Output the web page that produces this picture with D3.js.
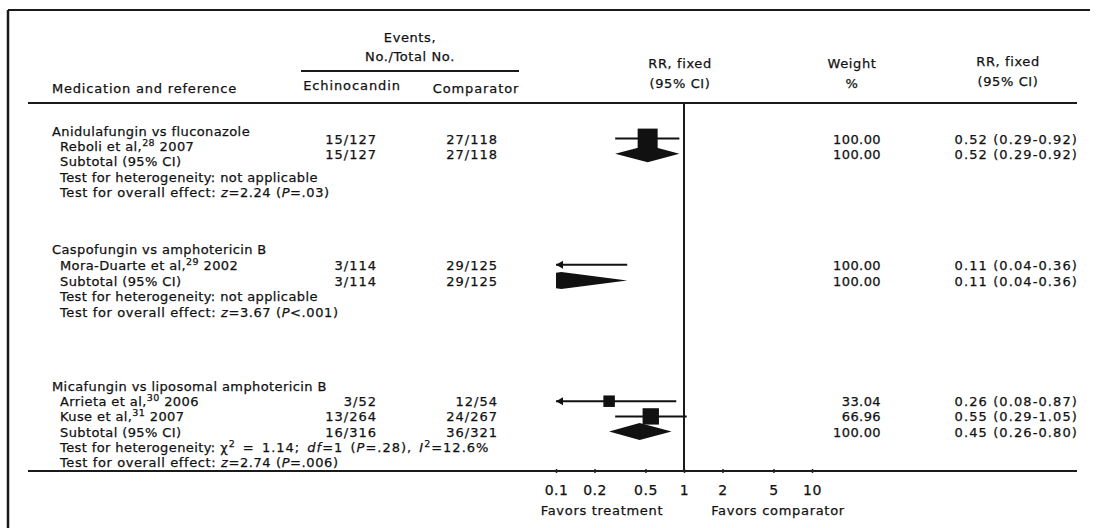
<!DOCTYPE html>
<html>
<head>
<meta charset="utf-8">
<script src="https://cdn.jsdelivr.net/npm/d3@7"></script>
<style>
body { margin: 0; background: #fff; }
svg text { font-family: "DejaVu Sans", "Liberation Sans", sans-serif; font-size: 13px; fill: #111; stroke: #111; stroke-width: 0.25px; letter-spacing: 0.4px; }
</style>
</head>
<body>
<div id="chart"></div>
<script>
// ---- data ----
var comparisons = ["Anidulafungin vs fluconazole", "Caspofungin vs amphotericin B", "Micafungin vs liposomal amphotericin B"];

var studyNames = ["Reboli et al,", "Mora-Duarte et al,", "Arrieta et al,", "Kuse et al,"];
var studyRefs = ["28", "29", "30", "31"];
var studyYears = ["2007", "2002", "2006", "2007"];
var studyGroup = [0, 1, 2, 2];
var echEvents = [15, 3, 3, 13];
var echTotals = [127, 114, 52, 264];
var compEvents = [27, 29, 12, 24];
var compTotals = [118, 125, 54, 267];
var studyWeight = [100, 100, 33.04, 66.96];
var studyRR = [0.52, 0.11, 0.26, 0.55];
var studyLo = [0.29, 0.04, 0.08, 0.29];
var studyHi = [0.92, 0.36, 0.87, 1.05];

var subEchEvents = [15, 3, 16];
var subEchTotals = [127, 114, 316];
var subCompEvents = [27, 29, 36];
var subCompTotals = [118, 125, 321];
var subWeight = [100, 100, 100];
var subRR = [0.52, 0.11, 0.45];
var subLo = [0.29, 0.04, 0.26];
var subHi = [0.92, 0.36, 0.80];

// heterogeneity text pieces: [text, style]
var hetTests = [
  [["not applicable"]],
  [["not applicable"]],
  [["χ"], ["2", "sup"], [" = 1.14; "], ["df", "i"], ["=1 ("], ["P", "i"], ["=.28), "], ["I", "i"], ["2", "sup"], ["=12.6%"]]
];
var overallZ = ["2.24", "3.67", "2.74"];
var overallP = ["=.03", "<.001", "=.006"];

var axisTicks = [0.1, 0.2, 0.5, 1, 2, 5, 10];

// ---- layout ----
var W = 1097, H = 528;
var groupTop = [131, 249, 386];   // centre of each comparison title line
var groupStep = [15.2, 15.75, 15.2];
var numShift = [-0.5, 0, 0];      // first block has its numbers set half a line up
var col = { title: 52, indent: 60, ech: 377, comp: 498, weight: 881, ci: 1078 };
var axisY = 471, headLine = 103;

var svg = d3.select("#chart").append("svg")
    .attr("width", W)
    .attr("height", H);

var x = d3.scaleLog().domain([0.1, 10]).range([556, 812]);
var xMin = x.range()[0], xMax = x.range()[1];
var f2 = d3.format(".2f");

// frame and rules
function rule(x1, x2, y1, y2, w) {
  svg.append("line").attr("x1", x1).attr("x2", x2).attr("y1", y1).attr("y2", y2)
    .attr("stroke", "#1a1a1a").attr("stroke-width", w || 2);
}
rule(8, 1090, 10, 10);
rule(8, 8, 10, H, 2.5);
rule(28, 1077, headLine, headLine);
rule(301, 519, 71, 71);
rule(28, 1077, axisY, axisY);
rule(x(1), x(1), headLine, axisY);

// header
function headText(t, xx, yy, anchor) {
  return svg.append("text").attr("x", xx).attr("y", yy)
    .attr("text-anchor", anchor || "middle").text(t);
}
headText("Events,", 410, 42).style("letter-spacing", "0.6px");
headText("No./Total No.", 410, 61).style("letter-spacing", "0.6px");
headText("Echinocandin", 352, 90).style("letter-spacing", "0.9px");
headText("Comparator", 476, 93).style("letter-spacing", "0.9px");
headText("Medication and reference", 52, 93, "start").style("letter-spacing", "0.8px");
headText("RR, fixed", 680, 68).style("letter-spacing", "0.6px");
headText("(95% CI)", 680, 88).style("letter-spacing", "0.6px");
headText("Weight", 852, 68).style("letter-spacing", "0.6px");
headText("%", 852, 88);
headText("RR, fixed", 1008, 66).style("letter-spacing", "0.6px");
headText("(95% CI)", 1008, 86).style("letter-spacing", "0.6px");

// rows
var rows = svg.append("g").attr("class", "rows");
svg.append("clipPath").attr("id", "plotclip")
  .append("rect").attr("x", xMin).attr("y", 0).attr("width", xMax - xMin).attr("height", H);
var marks = svg.append("g").attr("class", "marks");

function lineY(g, i) { return groupTop[g] + i * groupStep[g] + 5; }

function numbers(yy, ee, et, ce, ct, w, rr, lo, hi) {
  rows.append("text").attr("x", col.ech).attr("y", yy).attr("text-anchor", "end")
    .style("letter-spacing", "1px").text(ee + "/" + et);
  rows.append("text").attr("x", col.comp).attr("y", yy).attr("text-anchor", "end")
    .style("letter-spacing", "1px").text(ce + "/" + ct);
  rows.append("text").attr("x", col.weight).attr("y", yy).attr("text-anchor", "end")
    .style("letter-spacing", "0.4px").text(f2(w));
  rows.append("text").attr("x", col.ci).attr("y", yy).attr("text-anchor", "end")
    .style("letter-spacing", "1.1px")
    .text(f2(rr) + " (" + f2(lo) + "-" + f2(hi) + ")");
}

comparisons.forEach(function(name, g) {
  rows.append("text").attr("x", col.title).attr("y", lineY(g, 0)).text(name);

  var idx = d3.range(studyNames.length).filter(function(i) { return studyGroup[i] === g; });
  idx.forEach(function(s, k) {
    var t = rows.append("text").attr("x", col.indent).attr("y", lineY(g, k + 1));
    t.append("tspan").text(studyNames[s]);
    t.append("tspan").attr("dy", -5).attr("font-size", "9.5px").text(studyRefs[s]);
    t.append("tspan").attr("dy", 5).text(" " + studyYears[s]);

    var yy = lineY(g, k + 1 + numShift[g]);
    numbers(yy, echEvents[s], echTotals[s], compEvents[s], compTotals[s],
            studyWeight[s], studyRR[s], studyLo[s], studyHi[s]);

    // CI line + box
    var cy = yy - 5;
    var lx = Math.max(x(Math.max(studyLo[s], 0.1)), xMin), hx = Math.min(x(Math.min(studyHi[s], 10)), xMax);
    marks.append("line").attr("x1", lx).attr("x2", hx).attr("y1", cy).attr("y2", cy)
      .attr("stroke", "#111").attr("stroke-width", 2);
    if (studyLo[s] < x.domain()[0]) {
      marks.append("path")
        .attr("d", "M" + xMin + "," + cy + "L" + (xMin + 7) + "," + (cy - 4) + "L" + (xMin + 7) + "," + (cy + 4) + "Z")
        .attr("fill", "#111");
    }
    var size = 2 * Math.sqrt(studyWeight[s]);
    if (x(studyRR[s]) - size / 2 > xMin) {
      marks.append("rect").attr("x", x(studyRR[s]) - size / 2).attr("y", cy - size / 2)
        .attr("width", size).attr("height", size).attr("fill", "#111");
    }
  });

  var n = idx.length;
  rows.append("text").attr("x", col.indent).attr("y", lineY(g, n + 1)).text("Subtotal (95% CI)");
  var sy = lineY(g, n + 1 + numShift[g]);
  numbers(sy, subEchEvents[g], subEchTotals[g], subCompEvents[g], subCompTotals[g],
          subWeight[g], subRR[g], subLo[g], subHi[g]);
  var dy = sy - 5, dh = 8.5;
  marks.append("path")
    .attr("clip-path", "url(#plotclip)")
    .attr("d", "M" + x(subLo[g]) + "," + dy + "L" + x(subRR[g]) + "," + (dy - dh) +
               "L" + x(subHi[g]) + "," + dy + "L" + x(subRR[g]) + "," + (dy + dh) + "Z")
    .attr("fill", "#111");

  var het = rows.append("text").attr("x", col.indent).attr("y", lineY(g, n + 2));
  het.append("tspan").text("Test for heterogeneity: ");
  var shifted = 0;
  hetTests[g].forEach(function(p) {
    var ts = het.append("tspan").text(p[0]);
    if (hetTests[g].length > 1) ts.style("letter-spacing", "1px").style("word-spacing", "2px");
    if (p[1] === "i") ts.attr("font-style", "italic");
    if (p[1] === "sup") { ts.attr("dy", -5).attr("font-size", "9.5px"); shifted = 1; }
    else if (shifted) { ts.attr("dy", 5); shifted = 0; }
  });

  var ov = rows.append("text").attr("x", col.indent).attr("y", lineY(g, n + 3))
    .style("letter-spacing", "0.6px");
  ov.append("tspan").text("Test for overall effect: ");
  ov.append("tspan").attr("font-style", "italic").text("z");
  ov.append("tspan").text("=" + overallZ[g] + " (");
  ov.append("tspan").attr("font-style", "italic").text("P");
  ov.append("tspan").text(overallP[g] + ")");
});

// axis
var axis = d3.axisBottom(x).tickValues(axisTicks).tickFormat(function(d) { return d; }).tickSize(3);
var gx = svg.append("g").attr("transform", "translate(0," + axisY + ")").call(axis);
gx.select(".domain").remove();
gx.selectAll(".tick line").attr("y1", -2).attr("y2", 2).attr("stroke", "#222").attr("stroke-width", 1.5);
gx.selectAll(".tick text").attr("y", 24).attr("dy", 0)
  .style("font-family", "\"DejaVu Sans\", sans-serif").style("font-size", "14px")
  .style("letter-spacing", "0.5px").attr("fill", "#111");

headText("Favors treatment", 602, 515).style("letter-spacing", "0.7px");
headText("Favors comparator", 778, 515).style("letter-spacing", "0.7px");
</script>
</body>
</html>
